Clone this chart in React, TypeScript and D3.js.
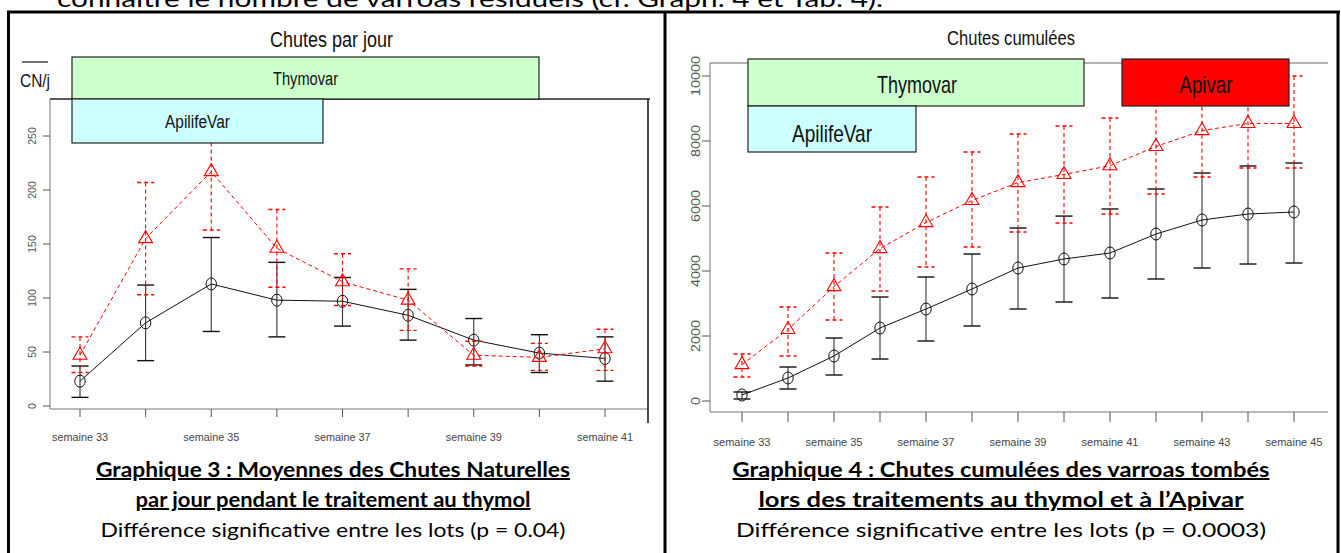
import React from "react";
import * as d3 from "d3";

// ---------- data ----------
const weeksDaily = [33, 34, 35, 36, 37, 38, 39, 40, 41];
const dailyThymovarMean = [23, 77, 113, 98, 97, 84, 61, 49, 44];
const dailyThymovarHi = [37, 112, 156, 133, 119, 108, 81, 66, 64];
const dailyThymovarLo = [8, 42, 69, 64, 74, 61, 38, 31, 23];
const dailyApilifeMean = [47, 155, 217, 146, 115, 98, 47, 45, 53];
const dailyApilifeHi = [64, 207, 270, 182, 141, 127, 60, 58, 71];
const dailyApilifeLo = [31, 103, 163, 110, 93, 70, 37, 33, 33];
const dailyYTicks = [0, 50, 100, 150, 200, 250];
const dailyXLabels = [33, 35, 37, 39, 41];

const weeksCum = [33, 34, 35, 36, 37, 38, 39, 40, 41, 42, 43, 44, 45];
const cumThymovarMean = [185, 708, 1385, 2246, 2830, 3446, 4092, 4370, 4554, 5138, 5569, 5754, 5815];
const cumThymovarHi = [277, 1046, 1938, 3200, 3815, 4523, 5323, 5690, 5908, 6523, 7015, 7231, 7323];
const cumThymovarLo = [62, 369, 800, 1292, 1846, 2308, 2830, 3046, 3169, 3754, 4092, 4215, 4246];
const cumApilifeMean = [1120, 2200, 3520, 4690, 5490, 6170, 6720, 6970, 7240, 7830, 8320, 8540, 8540];
const cumApilifeHi = [1446, 2892, 4554, 5969, 6892, 7662, 8215, 8460, 8708, 9400, 9700, 9900, 10000];
const cumApilifeLo = [738, 1385, 2492, 3385, 4123, 4738, 5200, 5477, 5754, 6369, 6892, 7169, 7169];
const cumYTicks = [0, 2000, 4000, 6000, 8000, 10000];
const cumXLabels = [33, 35, 37, 39, 41, 43, 45];

const topText = "connaître le nombre de varroas résiduels (cf. Graph. 4 et Tab. 4).";
const caption3 = [
  "Graphique 3 : Moyennes des Chutes Naturelles",
  "par jour pendant le traitement au thymol",
  "Différence significative entre les lots (p = 0.04)",
];
const caption4 = [
  "Graphique 4 : Chutes cumulées des varroas tombés",
  "lors des traitements au thymol et à l’Apivar",
  "Différence significative entre les lots (p = 0.0003)",
];

const NARROW = "'Liberation Sans', Arial, sans-serif";
const CAP = "Lato, 'Open Sans', sans-serif";
const RED = "#ff0000";

function Tri({ x, y, r }: { x: number; y: number; r: number }) {
  const xc = r * 0.866;
  const p = `M${x},${y - r}L${x + xc},${y + r / 2}L${x - xc},${y + r / 2}Z`;
  return <path d={p} fill="none" stroke={RED} strokeWidth={1.1} />;
}

function Series({
  weeks, mean, hi, lo, x, y, red,
}: {
  weeks: number[]; mean: number[]; hi: number[]; lo: number[];
  x: d3.ScaleLinear<number, number>; y: d3.ScaleLinear<number, number>; red: boolean;
}) {
  const line = d3.line<number>().x((_, i) => x(weeks[i])).y((v) => y(v));
  const color = red ? RED : "#111";
  const dash = red ? "4,3" : undefined;
  return (
    <g>
      {weeks.map((w, i) => (
        <g key={w}>
          <line x1={x(w)} x2={x(w)} y1={y(hi[i])} y2={y(lo[i])} stroke={red ? RED : "#333"} strokeWidth={1.1} strokeDasharray={dash} />
          <line x1={x(w) - 8.5} x2={x(w) + 8.5} y1={y(hi[i])} y2={y(hi[i])} stroke={color} strokeWidth={1.4} strokeDasharray={dash} />
          <line x1={x(w) - 8.5} x2={x(w) + 8.5} y1={y(lo[i])} y2={y(lo[i])} stroke={color} strokeWidth={1.4} strokeDasharray={dash} />
        </g>
      ))}
      <path d={line(mean) || ""} fill="none" stroke={color} strokeWidth={1} strokeDasharray={dash} />
      {weeks.map((w, i) =>
        red ? (
          <Tri key={w} x={x(w)} y={y(mean[i])} r={8} />
        ) : (
          <ellipse key={w} cx={x(w)} cy={y(mean[i])} rx={5.2} ry={6} fill="none" stroke="#111" strokeWidth={1} />
        )
      )}
    </g>
  );
}

function T(props: any) {
  const { children, len, ...rest } = props;
  return (
    <text {...rest} textLength={len} lengthAdjust="spacingAndGlyphs">
      {children}
    </text>
  );
}

export default function App() {
  // Left chart scales
  const xL = d3.scaleLinear().domain([33, 41]).range([80, 605]);
  const yL = d3.scaleLinear().domain([0, 250]).range([406, 136]);
  // Right chart scales
  const xR = d3.scaleLinear().domain([33, 45]).range([742, 1294]);
  const yR = d3.scaleLinear().domain([0, 10000]).range([401, 76]);

  return (
    <svg width={1341} height={553} style={{ position: "absolute", left: 0, top: 0, background: "#fff" }}>
      <rect x={0} y={0} width={1341} height={553} fill="#fff" />
      {/* cut text at top */}
      <T x={57} y={7} len={826} fontFamily={CAP} fontSize={24} fill="#000">{topText}</T>

      {/* table borders */}
      <line x1={7} x2={1340} y1={12} y2={12} stroke="#000" strokeWidth={3} />
      <line x1={8.5} x2={8.5} y1={11} y2={553} stroke="#000" strokeWidth={3} />
      <line x1={665} x2={665} y1={11} y2={553} stroke="#000" strokeWidth={3} />
      <line x1={1338} x2={1338} y1={11} y2={553} stroke="#000" strokeWidth={3} />

      {/* ---------- LEFT CHART ---------- */}
      <T x={331.5} y={47} len={123} textAnchor="middle" fontFamily={NARROW} fontSize={22} fill="#111">Chutes par jour</T>
      <line x1={22} x2={48} y1={62} y2={62} stroke="#111" strokeWidth={1.2} />
      <T x={20} y={87} len={30} fontFamily={NARROW} fontSize={18} fill="#111">CN/j</T>

      {/* frame */}
      <line x1={50} x2={650} y1={99} y2={99} stroke="#222" strokeWidth={1.3} />
      <line x1={50} x2={50} y1={99} y2={409} stroke="#777" strokeWidth={1} />
      <line x1={50} x2={648} y1={409} y2={409} stroke="#777" strokeWidth={1} />
      <line x1={648} x2={648} y1={99} y2={423} stroke="#111" strokeWidth={1.5} />

      {/* y axis */}
      {dailyYTicks.map((t) => (
        <g key={t}>
          <line x1={43} x2={50} y1={yL(t)} y2={yL(t)} stroke="#555" />
          <T transform={`translate(36,${yL(t)}) rotate(-90)`} textAnchor="middle" len={String(t).length * 5.8} fontFamily={NARROW} fontSize={11} fill="#555">{t}</T>
        </g>
      ))}
      {/* x axis */}
      {weeksDaily.map((w) => (
        <line key={w} x1={xL(w)} x2={xL(w)} y1={409} y2={417} stroke="#555" />
      ))}
      {dailyXLabels.map((w) => (
        <T key={w} x={xL(w)} y={441} textAnchor="middle" len={56} fontFamily={NARROW} fontSize={11} fill="#444">{`semaine ${w}`}</T>
      ))}

      <Series weeks={weeksDaily} mean={dailyThymovarMean} hi={dailyThymovarHi} lo={dailyThymovarLo} x={xL} y={yL} red={false} />
      <Series weeks={weeksDaily} mean={dailyApilifeMean} hi={dailyApilifeHi} lo={dailyApilifeLo} x={xL} y={yL} red={true} />

      {/* treatment boxes */}
      <rect x={72} y={57} width={467} height={42} fill="#ccffcc" stroke="#222" strokeWidth={1.2} />
      <T x={305.5} y={85} len={65} textAnchor="middle" fontFamily={NARROW} fontSize={18} fill="#111">Thymovar</T>
      <rect x={72} y={99} width={251} height={44} fill="#ccffff" stroke="#222" strokeWidth={1.2} />
      <T x={197.5} y={128} len={65} textAnchor="middle" fontFamily={NARROW} fontSize={18} fill="#111">ApilifeVar</T>

      {/* ---------- RIGHT CHART ---------- */}
      <T x={1011} y={45} len={128} textAnchor="middle" fontFamily={NARROW} fontSize={20} fill="#111">Chutes cumulées</T>

      <line x1={710} x2={1328} y1={63} y2={63} stroke="#666" strokeWidth={1} />
      <line x1={710} x2={710} y1={63} y2={412} stroke="#777" strokeWidth={1} />
      <line x1={710} x2={1328} y1={412} y2={412} stroke="#777" strokeWidth={1} />

      {cumYTicks.map((t) => (
        <g key={t}>
          <line x1={702} x2={710} y1={yR(t)} y2={yR(t)} stroke="#555" />
          <T transform={`translate(700,${yR(t)}) rotate(-90)`} textAnchor="middle" len={String(t).length * 8} fontFamily={NARROW} fontSize={13} fill="#555">{t}</T>
        </g>
      ))}
      {weeksCum.map((w) => (
        <line key={w} x1={xR(w)} x2={xR(w)} y1={412} y2={422} stroke="#555" />
      ))}
      {cumXLabels.map((w) => (
        <T key={w} x={xR(w)} y={446} textAnchor="middle" len={57} fontFamily={NARROW} fontSize={11.5} fill="#444">{`semaine ${w}`}</T>
      ))}

      <Series weeks={weeksCum} mean={cumThymovarMean} hi={cumThymovarHi} lo={cumThymovarLo} x={xR} y={yR} red={false} />
      <Series weeks={weeksCum} mean={cumApilifeMean} hi={cumApilifeHi} lo={cumApilifeLo} x={xR} y={yR} red={true} />

      <rect x={748} y={59} width={336} height={47} fill="#ccffcc" stroke="#222" strokeWidth={1.2} />
      <T x={917} y={93} len={80} textAnchor="middle" fontFamily={NARROW} fontSize={24} fill="#111">Thymovar</T>
      <rect x={748} y={106} width={168} height={46} fill="#ccffff" stroke="#222" strokeWidth={1.2} />
      <T x={832} y={142} len={80} textAnchor="middle" fontFamily={NARROW} fontSize={24} fill="#111">ApilifeVar</T>
      <rect x={1122} y={59} width={167} height={47} fill="#ff0000" stroke="#222" strokeWidth={1.2} />
      <T x={1206} y={93} len={53} textAnchor="middle" fontFamily={NARROW} fontSize={24} fill="#111">Apivar</T>

      {/* ---------- CAPTIONS ---------- */}
      <T x={333} y={477} len={474} textAnchor="middle" fontFamily={CAP} fontSize={20} fontWeight="bold" textDecoration="underline" fill="#000">{caption3[0]}</T>
      <T x={333} y={507} len={395} textAnchor="middle" fontFamily={CAP} fontSize={20} fontWeight="bold" textDecoration="underline" fill="#000">{caption3[1]}</T>
      <T x={333} y={537} len={465} textAnchor="middle" fontFamily={CAP} fontSize={20} fill="#000">{caption3[2]}</T>

      <T x={1001} y={477} len={537} textAnchor="middle" fontFamily={CAP} fontSize={20} fontWeight="bold" textDecoration="underline" fill="#000">{caption4[0]}</T>
      <T x={1001} y={507} len={485} textAnchor="middle" fontFamily={CAP} fontSize={20} fontWeight="bold" textDecoration="underline" fill="#000">{caption4[1]}</T>
      <T x={1001} y={537} len={530} textAnchor="middle" fontFamily={CAP} fontSize={20} fill="#000">{caption4[2]}</T>
    </svg>
  );
}
